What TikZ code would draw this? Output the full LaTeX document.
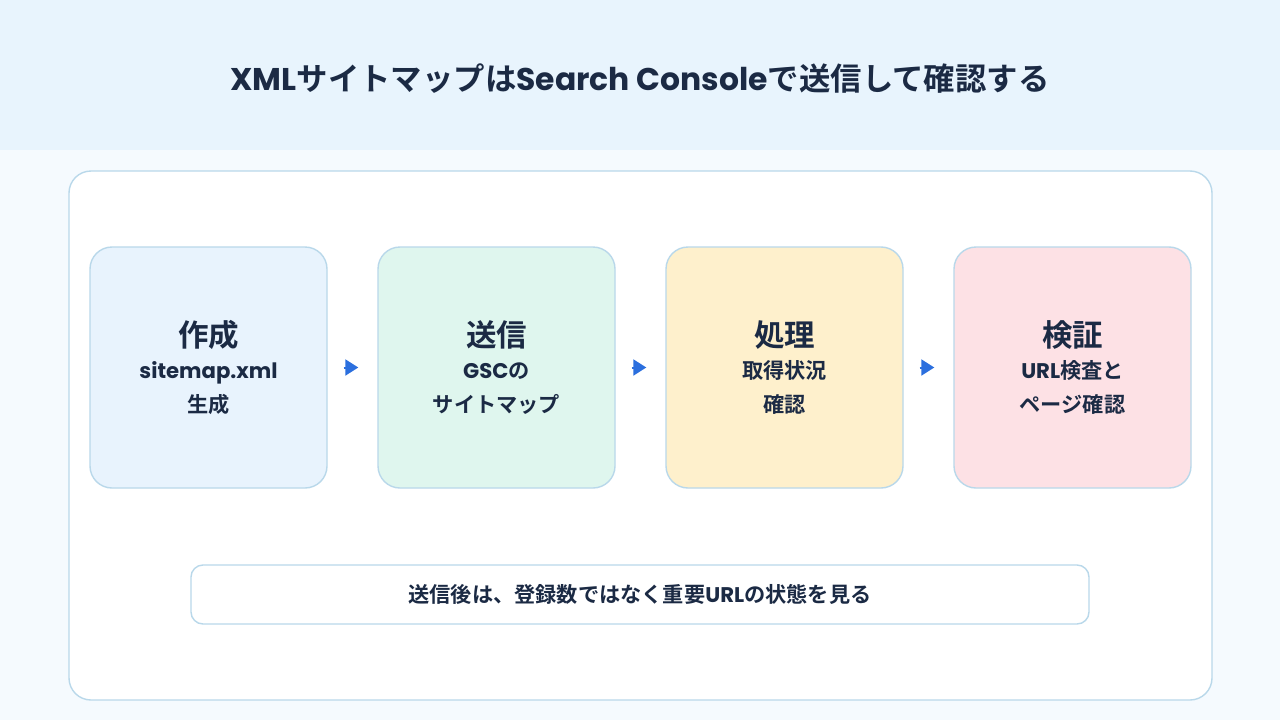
\documentclass[tikz,border=0pt]{standalone}
\usepackage{fontspec}
\setmainfont{Noto Sans CJK JP}[BoldFont={Noto Sans CJK JP Bold}]
\newfontfamily\lat{Poppins}
\usetikzlibrary{arrows.meta}
\definecolor{hdr}{HTML}{E8F4FD}
\definecolor{bgc}{HTML}{F5FAFE}
\definecolor{bord}{HTML}{B9D8EA}
\definecolor{ink}{HTML}{1B2A44}
\definecolor{fa}{HTML}{E8F3FD}
\definecolor{fb}{HTML}{DFF6EE}
\definecolor{fc}{HTML}{FEF0CC}
\definecolor{fd}{HTML}{FDE1E5}
\definecolor{arr}{HTML}{2B6FDE}
\tikzset{
  stepbox/.style={draw=bord, line width=1.4pt, rounded corners=22pt, minimum width=237pt, minimum height=241pt, inner sep=0pt},
  big/.style={anchor=base, text=ink, font=\fontsize{30.5}{32}\selectfont\bfseries, inner sep=0pt},
  small/.style={anchor=base, text=ink, font=\fontsize{21.2}{24}\selectfont\bfseries, inner sep=0pt},
  flow/.style={draw=arr, line width=2pt, -{Triangle[length=13pt,width=16pt]}, shorten <=16pt, shorten >=19pt},
}
\begin{document}
\begin{tikzpicture}[x=1pt,y=-1pt]
\useasboundingbox (0,0) rectangle (1280,720);
\fill[bgc] (0,0) rectangle (1280,720);
\fill[hdr] (0,0) rectangle (1280,150);
\node[anchor=base, text=ink, font=\fontsize{31.4}{34}\selectfont\bfseries, inner sep=0pt] (title) at (640,90) {{\lat XML}サイトマップは{\lat Search Console}で送信して確認する};
\node[draw=bord, fill=white, line width=1.4pt, rounded corners=22pt, minimum width=1143pt, minimum height=529pt, inner sep=0pt] (panel) at (640.5,435.5) {};
\node[stepbox, fill=fa] (b1) at (208.5,367.5) {};
\node[stepbox, fill=fb] (b2) at (496.5,367.5) {};
\node[stepbox, fill=fc] (b3) at (784.5,367.5) {};
\node[stepbox, fill=fd] (b4) at (1072.5,367.5) {};
\node[big] (t1) at (208.5,346) {作成};
\node[small] (s1a) at (208.5,378.5) {\lat sitemap.xml};
\node[small] (s1b) at (208.5,412.5) {生成};
\node[big] (t2) at (496.5,346) {送信};
\node[small] (s2a) at (496.5,378.5) {{\lat GSC}の};
\node[small] (s2b) at (496.5,412.5) {サイトマップ};
\node[big] (t3) at (784.5,346) {処理};
\node[small] (s3a) at (784.5,378.5) {取得状況};
\node[small] (s3b) at (784.5,412.5) {確認};
\node[big] (t4) at (1072.5,346) {検証};
\node[small] (s4a) at (1072.5,378.5) {{\lat URL}検査と};
\node[small] (s4b) at (1072.5,412.5) {ページ確認};
\draw[flow] (b1) -- (b2);
\draw[flow] (b2) -- (b3);
\draw[flow] (b3) -- (b4);
\node[draw=bord, fill=white, line width=1.4pt, rounded corners=12pt, minimum width=898pt, minimum height=59pt, inner sep=0pt] (note) at (640,594.5) {};
\node[small] (notetext) at (640,602) {送信後は、登録数ではなく重要{\lat URL}の状態を見る};
\end{tikzpicture}
\end{document}
